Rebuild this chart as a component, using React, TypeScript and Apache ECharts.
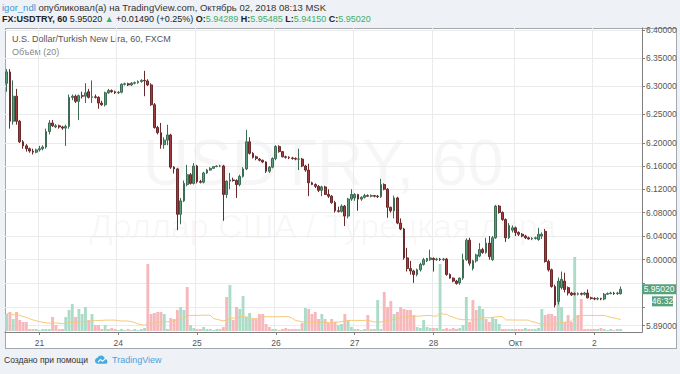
import React, { useEffect, useRef } from "react";
import * as echarts from "echarts";

// ---- data (USD/TRY, 60-min bars, 20 Sep 14:00 -> 2 Oct 08:00 MSK) ----
const opens = [
  6.305, 6.325, 6.238, 6.282, 6.238, 6.202, 6.195, 6.19, 6.186, 6.184,
  6.188, 6.19, 6.193, 6.22, 6.235, 6.228, 6.23, 6.228, 6.226, 6.229,
  6.28, 6.282, 6.273, 6.283, 6.282, 6.29, 6.28, 6.281, 6.28, 6.27,
  6.267, 6.288, 6.292, 6.29, 6.288, 6.289, 6.303, 6.304, 6.302, 6.305,
  6.306, 6.308, 6.31, 6.309, 6.302, 6.267, 6.227, 6.218, 6.197, 6.205,
  6.214, 6.158, 6.155, 6.077, 6.1, 6.128, 6.145, 6.13, 6.16, 6.133,
  6.132, 6.148, 6.153, 6.156, 6.159, 6.16, 6.16, 6.111, 6.134, 6.136,
  6.135, 6.128, 6.142, 6.155, 6.202, 6.182, 6.176, 6.172, 6.17, 6.167,
  6.151, 6.158, 6.173, 6.194, 6.185, 6.176, 6.175, 6.174, 6.173, 6.172,
  6.172, 6.16, 6.153, 6.131, 6.128, 6.125, 6.118, 6.124, 6.111, 6.108,
  6.097, 6.083, 6.082, 6.091, 6.074, 6.103, 6.105, 6.111, 6.103, 6.106,
  6.109, 6.108, 6.109, 6.108, 6.107, 6.128, 6.12, 6.089, 6.083, 6.105,
  6.062, 6.052, 6.003, 5.985, 5.981, 5.975, 5.983, 5.992, 5.998, 6.0,
  6.002, 6.0, 6.001, 6.0, 6.001, 5.975, 5.969, 5.964, 5.961, 5.969,
  6.0, 6.033, 5.985, 5.998, 6.006, 6.017, 6.012, 6.028, 6.0, 6.037,
  6.091, 6.08, 6.068, 6.037, 6.05, 6.054, 6.046, 6.043, 6.04, 6.037,
  6.035, 6.036, 6.034, 6.04, 6.048, 5.997, 5.983, 5.955, 5.93, 5.953,
  5.964, 5.953, 5.944, 5.943, 5.942, 5.943, 5.942, 5.944, 5.936, 5.935,
  5.934, 5.935, 5.934, 5.942, 5.943, 5.944, 5.943, 5.94289,
];
const closes = [
  6.325, 6.238, 6.282, 6.238, 6.202, 6.195, 6.19, 6.186, 6.184, 6.188,
  6.19, 6.193, 6.22, 6.235, 6.23, 6.23, 6.228, 6.226, 6.229, 6.28,
  6.282, 6.273, 6.283, 6.282, 6.288, 6.28, 6.281, 6.28, 6.27, 6.267,
  6.288, 6.292, 6.29, 6.288, 6.289, 6.303, 6.304, 6.302, 6.305, 6.306,
  6.308, 6.31, 6.309, 6.302, 6.267, 6.227, 6.218, 6.197, 6.205, 6.214,
  6.158, 6.155, 6.077, 6.1, 6.13, 6.145, 6.13, 6.16, 6.133, 6.132,
  6.148, 6.153, 6.156, 6.159, 6.16, 6.16, 6.111, 6.134, 6.136, 6.135,
  6.128, 6.142, 6.155, 6.202, 6.182, 6.175, 6.173, 6.17, 6.167, 6.151,
  6.158, 6.173, 6.194, 6.185, 6.176, 6.175, 6.174, 6.173, 6.172, 6.172,
  6.16, 6.153, 6.131, 6.128, 6.125, 6.118, 6.124, 6.111, 6.108, 6.097,
  6.083, 6.082, 6.091, 6.074, 6.103, 6.111, 6.111, 6.103, 6.106, 6.109,
  6.108, 6.109, 6.108, 6.107, 6.128, 6.12, 6.089, 6.083, 6.105, 6.062,
  6.052, 6.003, 5.985, 5.981, 5.975, 5.983, 5.992, 6.0, 6.002, 6.003,
  6.0, 6.001, 6.0, 6.001, 5.975, 5.969, 5.964, 5.96, 5.969, 6.0,
  6.033, 5.994, 5.998, 6.008, 6.017, 6.012, 6.028, 6.005, 6.037, 6.091,
  6.08, 6.068, 6.037, 6.058, 6.054, 6.046, 6.043, 6.04, 6.037, 6.035,
  6.036, 6.037, 6.043, 6.043, 5.997, 5.983, 5.955, 5.924, 5.964, 5.967,
  5.95, 5.944, 5.941, 5.942, 5.943, 5.942, 5.944, 5.936, 5.935, 5.934,
  5.935, 5.934, 5.942, 5.943, 5.944, 5.943, 5.944, 5.9502,
];
const lows = [
  6.29, 6.225, 6.232, 6.232, 6.2, 6.19, 6.185, 6.183, 6.18, 6.182,
  6.185, 6.187, 6.19, 6.215, 6.228, 6.226, 6.225, 6.223, 6.195, 6.225,
  6.275, 6.27, 6.24, 6.278, 6.27, 6.278, 6.27, 6.278, 6.26, 6.265,
  6.264, 6.286, 6.288, 6.286, 6.286, 6.287, 6.301, 6.3, 6.3, 6.303,
  6.304, 6.306, 6.282, 6.3, 6.265, 6.225, 6.215, 6.19, 6.19, 6.196,
  6.155, 6.147, 6.05, 6.06, 6.098, 6.125, 6.128, 6.128, 6.13, 6.13,
  6.13, 6.146, 6.152, 6.155, 6.158, 6.158, 6.066, 6.105, 6.12, 6.133,
  6.105, 6.125, 6.14, 6.153, 6.18, 6.173, 6.17, 6.168, 6.165, 6.148,
  6.148, 6.156, 6.17, 6.183, 6.175, 6.173, 6.172, 6.171, 6.17, 6.153,
  6.158, 6.15, 6.108, 6.127, 6.122, 6.115, 6.108, 6.11, 6.105, 6.095,
  6.08, 6.08, 6.08, 6.057, 6.07, 6.1, 6.1, 6.083, 6.1, 6.104,
  6.107, 6.106, 6.106, 6.105, 6.105, 6.118, 6.071, 6.08, 6.07, 6.06,
  6.05, 6.0, 5.98, 5.975, 5.961, 5.972, 5.98, 5.99, 5.996, 5.998,
  5.98, 5.998, 5.998, 5.998, 5.973, 5.968, 5.962, 5.958, 5.958, 5.966,
  5.998, 5.99, 5.982, 5.995, 6.004, 6.01, 6.01, 6.0, 5.998, 6.035,
  6.078, 6.066, 6.03, 6.035, 6.046, 6.04, 6.04, 6.038, 6.035, 6.034,
  6.033, 6.034, 6.032, 6.035, 5.995, 5.98, 5.953, 5.92, 5.925, 5.95,
  5.945, 5.94, 5.939, 5.94, 5.94, 5.94, 5.94, 5.935, 5.933, 5.932,
  5.932, 5.932, 5.932, 5.941, 5.942, 5.941, 5.941, 5.9415,
];
const highs = [
  6.33, 6.33, 6.31, 6.295, 6.24, 6.205, 6.198, 6.192, 6.19, 6.19,
  6.195, 6.196, 6.225, 6.24, 6.24, 6.233, 6.232, 6.23, 6.232, 6.285,
  6.285, 6.285, 6.285, 6.29, 6.305, 6.295, 6.31, 6.285, 6.282, 6.274,
  6.29, 6.295, 6.294, 6.292, 6.291, 6.305, 6.306, 6.306, 6.307, 6.308,
  6.31, 6.312, 6.327, 6.312, 6.305, 6.27, 6.23, 6.235, 6.21, 6.232,
  6.216, 6.16, 6.157, 6.105, 6.135, 6.162, 6.148, 6.165, 6.162, 6.136,
  6.15, 6.155, 6.158, 6.16, 6.161, 6.162, 6.162, 6.135, 6.148, 6.14,
  6.137, 6.145, 6.158, 6.223, 6.21, 6.184, 6.178, 6.174, 6.171, 6.168,
  6.16, 6.175, 6.196, 6.196, 6.186, 6.178, 6.177, 6.176, 6.175, 6.19,
  6.174, 6.162, 6.164, 6.133, 6.13, 6.127, 6.126, 6.126, 6.12, 6.11,
  6.1, 6.09, 6.094, 6.093, 6.105, 6.12, 6.113, 6.112, 6.108, 6.112,
  6.111, 6.111, 6.11, 6.11, 6.138, 6.13, 6.122, 6.09, 6.109, 6.107,
  6.07, 6.054, 6.02, 5.998, 5.983, 5.985, 5.995, 6.003, 6.003, 6.017,
  6.004, 6.003, 6.003, 6.003, 6.003, 5.977, 5.97, 5.966, 5.97, 6.01,
  6.036, 6.037, 6.0, 6.01, 6.028, 6.02, 6.037, 6.04, 6.04, 6.093,
  6.093, 6.082, 6.07, 6.062, 6.058, 6.056, 6.048, 6.045, 6.042, 6.039,
  6.038, 6.039, 6.054, 6.046, 6.052, 6.0, 5.985, 5.958, 5.97, 5.98,
  5.978, 5.955, 5.946, 5.945, 5.945, 5.945, 5.946, 5.95, 5.938, 5.937,
  5.937, 5.936, 5.944, 5.945, 5.946, 5.946, 5.946, 5.95485,
];
// volume (relative units) and bar direction (1 = up / green, 0 = down / red)
const volumes = [
  17, 19, 12, 19, 11, 9, 9, 2, 2, 2,
  1, 2, 2, 2, 14, 6, 2, 2, 14, 21,
  27, 14, 22, 17, 24, 11, 17, 6, 6, 2,
  6, 2, 3, 2, 1, 2, 1, 2, 1, 2,
  1, 2, 3, 67, 17, 18, 19, 19, 17, 2,
  13, 12, 21, 24, 21, 44, 6, 3, 2, 2,
  4, 2, 2, 1, 2, 2, 4, 34, 46, 11,
  24, 22, 35, 14, 18, 12, 12, 17, 17, 7,
  4, 2, 2, 1, 2, 3, 2, 2, 2, 2,
  8, 23, 22, 17, 19, 12, 17, 12, 8, 12,
  9, 6, 7, 17, 11, 4, 2, 2, 1, 2,
  16, 2, 2, 31, 2, 39, 24, 30, 17, 19,
  24, 22, 21, 21, 16, 4, 3, 11, 4, 3,
  3, 3, 67, 2, 3, 2, 3, 2, 3, 6,
  34, 9, 31, 21, 25, 22, 12, 9, 14, 12,
  7, 2, 2, 2, 2, 2, 2, 2, 3, 2,
  2, 2, 3, 22, 16, 17, 17, 15, 29, 24,
  9, 16, 9, 74, 16, 32, 2, 2, 2, 2,
  2, 3, 2, 1, 2, 1, 2, 2,
];
const volumeUp = [
  1, 0, 1, 0, 0, 0, 0, 0, 0, 1,
  1, 1, 1, 1, 0, 0, 0, 0, 1, 1,
  1, 0, 1, 1, 1, 0, 1, 0, 0, 0,
  1, 1, 0, 0, 1, 1, 1, 0, 1, 1,
  1, 1, 1, 0, 0, 0, 0, 0, 1, 1,
  0, 0, 0, 1, 1, 0, 1, 1, 0, 0,
  1, 1, 1, 1, 1, 1, 0, 0, 1, 0,
  0, 1, 1, 1, 1, 0, 0, 0, 0, 0,
  0, 1, 1, 0, 0, 0, 0, 0, 0, 1,
  0, 1, 0, 0, 0, 0, 1, 0, 0, 0,
  0, 1, 1, 0, 1, 1, 1, 0, 1, 1,
  0, 1, 0, 1, 1, 0, 0, 0, 1, 0,
  0, 0, 0, 0, 0, 1, 1, 1, 1, 1,
  0, 1, 1, 0, 0, 0, 0, 0, 1, 1,
  1, 0, 0, 0, 1, 1, 0, 0, 1, 1,
  1, 0, 0, 1, 1, 0, 0, 0, 1, 0,
  1, 1, 1, 1, 0, 0, 0, 0, 1, 1,
  0, 0, 0, 1, 0, 0, 0, 0, 0, 0,
  1, 0, 1, 1, 1, 0, 1, 1,
];
const dayLabels = ["21", "24", "25", "26", "27", "28", "Окт", "2"];
const dayLabelBars = [10, 34, 58, 82, 106, 130, 155, 179];
// gridlines / ticks of the price scale; 5.96 and 5.92 sit under the price tags
const priceTicks = [6.4, 6.35, 6.3, 6.25, 6.2, 6.16, 6.12, 6.08, 6.04, 6.0, 5.96, 5.92, 5.89];
const priceLabels = [6.4, 6.35, 6.3, 6.25, 6.2, 6.16, 6.12, 6.08, 6.04, 6.0, 5.89];
const priceMin = 5.8793;
const priceMax = 6.4036;
const emptyBarsRight = 6;
const maPeriod = 20;
const lastPrice = 5.9502;
const barTimer = "46:32";

const logoPath =
  "M6 16C2.7 16 0 13.3 0 10C0 7 2.2 4.6 5.1 4.1C6.3 1.7 8.8 0 11.7 0C15.4 0 18.5 2.7 19 6.3C21.8 6.8 24 9.2 24 12C24 14.2 22.2 16 20 16Z";
echarts.graphic.registerShape("tvlogo", echarts.graphic.extendPath(logoPath, {}));

const FONT = '"Liberation Sans", Arial, sans-serif';

export default function App() {
  const ref = useRef<HTMLDivElement>(null);

  useEffect(() => {
    if (!ref.current) return;
    const chart = echarts.init(ref.current, undefined, { renderer: "svg" });

    const totalBars = opens.length + emptyBarsRight;
    const categories = Array.from({ length: totalBars }, (_, i) => String(i));
    const isDayTick = (i: number) => dayLabelBars.indexOf(i) >= 0;

    const candleData = opens.map((o, i) => [o, closes[i], lows[i], highs[i]]);
    const volumeData = volumes.map((v, i) => ({
      value: v,
      itemStyle: { color: volumeUp[i] ? "#acdcc7" : "#f6b8ba" },
    }));
    const volumeMA = volumes.map((_, i) => {
      const w = volumes.slice(Math.max(0, i - maPeriod + 1), i + 1);
      return w.reduce((a, b) => a + b, 0) / w.length;
    });

    const staticGraphics: any[] = [
      {
        id: "wm1",
        type: "text",
        x: 323,
        y: 163,
        silent: true,
        style: {
          text: "USDTRY, 60",
          font: `64px ${FONT}`,
          fill: "rgba(0,0,0,0.035)",
          align: "center",
          verticalAlign: "middle",
        },
      },
      {
        id: "wm2",
        type: "text",
        x: 323,
        y: 226,
        silent: true,
        style: {
          text: "Доллар США / Турецкая лира",
          font: `34px ${FONT}`,
          fill: "rgba(0,0,0,0.035)",
          align: "center",
          verticalAlign: "middle",
        },
      },
      {
        id: "h1",
        type: "text",
        x: 2,
        y: 7,
        style: {
          text: "{u|igor_ndl} {t|опубликовал(а) на TradingView.com, Октябрь 02, 2018 08:13 MSK}",
          font: `9.5px ${FONT}`,
          verticalAlign: "middle",
          rich: {
            u: { fill: "#3d97d3", font: `9.5px ${FONT}` },
            t: { fill: "#333333", font: `9.5px ${FONT}` },
          },
        },
      },
      {
        id: "h2",
        type: "text",
        x: 2,
        y: 19,
        style: {
          text:
            "{b|FX:USDTRY, 60} {n|5.95020} {g|▲} {n|+0.01490 (+0.25%)} {b|O:}{g|5.94289} {b|H:}{g|5.95485} {b|L:}{g|5.94150} {b|C:}{g|5.95020}",
          font: `9px ${FONT}`,
          verticalAlign: "middle",
          rich: {
            b: { fill: "#222222", font: `bold 9px ${FONT}` },
            n: { fill: "#222222", font: `9px ${FONT}` },
            g: { fill: "#3fae6a", font: `9px ${FONT}` },
          },
        },
      },
      {
        id: "t1",
        type: "text",
        x: 12,
        y: 39,
        style: {
          text: "U.S. Dollar/Turkish New Lira, 60, FXCM",
          font: `9px ${FONT}`,
          fill: "#555555",
          verticalAlign: "middle",
        },
      },
      {
        id: "t2",
        type: "text",
        x: 12,
        y: 52,
        style: {
          text: "Объём (20)",
          font: `9px ${FONT}`,
          fill: "#888888",
          verticalAlign: "middle",
        },
      },
      {
        id: "f1",
        type: "text",
        x: 4,
        y: 360,
        style: {
          text: "Создано при помощи",
          font: `8.5px ${FONT}`,
          fill: "#333333",
          verticalAlign: "middle",
        },
      },
      {
        id: "logo",
        type: "tvlogo",
        x: 95,
        y: 355.5,
        scaleX: 0.52,
        scaleY: 0.52,
        style: { fill: "#46a9e0" },
      },
      {
        id: "logoWave",
        type: "polyline",
        shape: { points: [[98, 362], [100.5, 359.5], [102.5, 361.3], [106, 358]] },
        style: { stroke: "#ffffff", lineWidth: 1.1, fill: null },
      },
      {
        id: "f2",
        type: "text",
        x: 112,
        y: 360,
        style: {
          text: "TradingView",
          font: `9px ${FONT}`,
          fill: "#4aa3df",
          verticalAlign: "middle",
        },
      },
    ];

    chart.setOption({
      animation: false,
      backgroundColor: "transparent",
      grid: [
        { left: 5, right: 38, top: 28, bottom: 42 },
        { left: 5, right: 38, bottom: 43, height: 100 },
      ],
      xAxis: [
        {
          type: "category",
          gridIndex: 0,
          data: categories,
          boundaryGap: true,
          axisLine: { show: true, lineStyle: { color: "#7f7f7f" } },
          axisTick: {
            show: true,
            alignWithLabel: true,
            length: 3,
            interval: (i: number) => isDayTick(i),
            lineStyle: { color: "#7f7f7f" },
          },
          axisLabel: {
            interval: (i: number) => isDayTick(i),
            formatter: (_v: string, i: number) => {
              const k = dayLabelBars.indexOf(i);
              return k >= 0 ? dayLabels[k] : "";
            },
            color: "#555555",
            fontSize: 8.5,
            fontFamily: FONT,
            margin: 6,
          },
          splitLine: {
            show: true,
            interval: (i: number) => isDayTick(i),
            lineStyle: { color: "#ebebeb", width: 1 },
          },
        },
        {
          type: "category",
          gridIndex: 1,
          data: categories,
          boundaryGap: true,
          show: false,
        },
      ],
      yAxis: [
        {
          type: "log",
          logBase: 10,
          gridIndex: 0,
          position: "right",
          min: priceMin,
          max: priceMax,
          axisLine: { show: true, lineStyle: { color: "#7f7f7f" } },
          axisTick: {
            show: true,
            customValues: priceTicks,
            length: 3,
            lineStyle: { color: "#7f7f7f" },
          },
          axisLabel: {
            customValues: priceLabels,
            formatter: (v: number) => Number(v).toFixed(5),
            color: "#555555",
            fontSize: 8.5,
            fontFamily: FONT,
            margin: 4,
          },
          splitLine: { show: true, lineStyle: { color: "#ebebeb", width: 1 } },
        },
        {
          type: "value",
          gridIndex: 1,
          min: 0,
          max: 100,
          show: false,
          splitLine: { show: false },
        },
      ],
      series: [
        {
          name: "Объём",
          type: "bar",
          xAxisIndex: 1,
          yAxisIndex: 1,
          data: volumeData,
          barCategoryGap: "12%",
          z: 1,
        },
        {
          name: "MA",
          type: "line",
          xAxisIndex: 1,
          yAxisIndex: 1,
          data: volumeMA,
          showSymbol: false,
          symbol: "none",
          lineStyle: { color: "#f5c77a", width: 1 },
          z: 2,
        },
        {
          name: "USDTRY",
          type: "candlestick",
          xAxisIndex: 0,
          yAxisIndex: 0,
          data: candleData,
          barWidth: "70%",
          itemStyle: {
            color: "#58a07b",
            color0: "#a23b3d",
            borderColor: "#3c6d54",
            borderColor0: "#6a2a2b",
            borderWidth: 1,
          },
          z: 3,
        },
      ],
      graphic: staticGraphics,
    });

    const yPix = chart.convertToPixel({ yAxisIndex: 0 }, lastPrice) as number;
    const tagGraphics: any[] = [
      {
        id: "tagPriceBox",
        type: "rect",
        z: 100,
        shape: { x: 642, y: yPix - 5, width: 34, height: 10 },
        style: { fill: "#57a27c" },
      },
      {
        id: "tagPriceText",
        type: "text",
        z: 101,
        x: 659,
        y: yPix,
        style: {
          text: lastPrice.toFixed(5),
          font: `8.5px ${FONT}`,
          fill: "#ffffff",
          align: "center",
          verticalAlign: "middle",
        },
      },
      {
        id: "tagTimerBox",
        type: "rect",
        z: 100,
        shape: { x: 652, y: yPix + 7, width: 21, height: 10 },
        style: { fill: "#57a27c" },
      },
      {
        id: "tagTimerText",
        type: "text",
        z: 101,
        x: 662.5,
        y: yPix + 12,
        style: {
          text: barTimer,
          font: `8.5px ${FONT}`,
          fill: "#ffffff",
          align: "center",
          verticalAlign: "middle",
        },
      },
    ];
    chart.setOption({ graphic: [...staticGraphics, ...tagGraphics] });

    return () => chart.dispose();
  }, []);

  return (
    <div
      style={{
        position: "fixed",
        left: 0,
        top: 0,
        width: 680,
        height: 374,
        background: "#eef1f5",
      }}
    >
      <div
        style={{
          position: "absolute",
          left: 5,
          top: 28,
          width: 670,
          height: 319,
          background: "#ffffff",
          border: "1px solid #a3a8ae",
        }}
      />
      <div
        ref={ref}
        style={{ position: "absolute", left: 0, top: 0, width: 680, height: 374 }}
      />
    </div>
  );
}
